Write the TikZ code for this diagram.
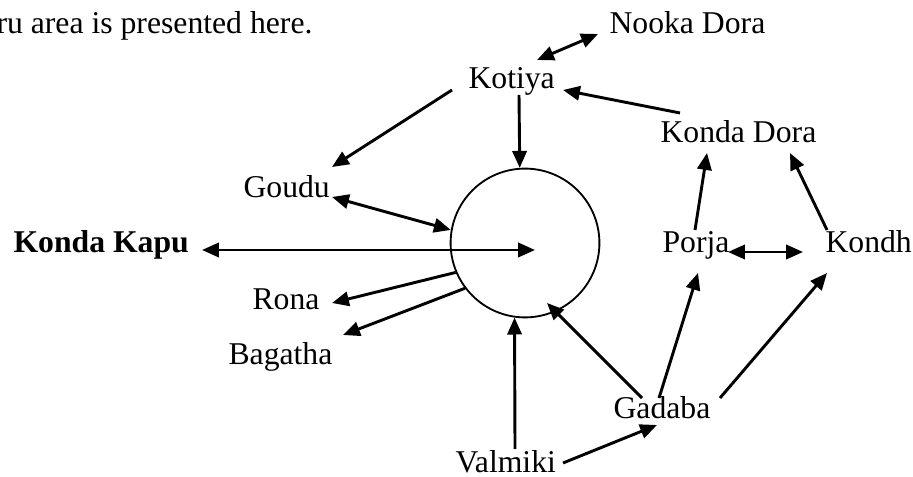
\documentclass[tikz,border=0pt]{standalone}
\usepackage{fontspec}
\setmainfont{Liberation Serif}
\usetikzlibrary{arrows.meta}

\begin{document}
\begin{tikzpicture}[x=0.0133cm, y=-0.0133cm,
    tribe/.style={anchor=base west, inner sep=0pt, font=\fontsize{12}{14}\selectfont},
    link/.style={-{Triangle[length=6.4pt,width=5.4pt]}, line width=1.1pt},
    twoway/.style={{Triangle[length=6.4pt,width=5.4pt]}-{Triangle[length=6.4pt,width=5.4pt]}, line width=1.1pt}]
    \useasboundingbox (0,0) rectangle (913,477);

    \node [tribe] (intro) at (-4,34) {ru area is presented here.};

    % the tribes round the hub
    \node [tribe] (nooka)   at (609,34)  {Nooka Dora};
    \node [tribe] (kotiya)  at (468,89)  {Kotiya};
    \node [tribe] (kdora)   at (660,143) {Konda Dora};
    \node [tribe] (goudu)   at (243,198) {Goudu};
    \node [tribe, font=\fontsize{12}{14}\selectfont\bfseries] (kapu) at (13,253) {Konda Kapu};
    \node [tribe] (porja)   at (662,253) {Porja};
    \node [tribe] (kondh)   at (825,253) {Kondh};
    \node [tribe] (rona)    at (252,310) {Rona};
    \node [tribe] (bagatha) at (228,365) {Bagatha};
    \node [tribe] (gadaba)  at (613,419) {Gadaba};
    \node [tribe] (valmiki) at (455,473) {Valmiki};

    \node [circle, draw, line width=0.7pt, minimum size=1.98cm, inner sep=0pt] (hub) at (525,243) {};

    \draw [twoway] ([shift={(69,-29)}]kotiya.base west) -- ([shift={(-11,0)}]nooka.base west);
    \draw [link] ([shift={(-16,1)}]kotiya.base west) -- ([shift={(89,-31)}]goudu.base west);
    \draw [link] ([shift={(51,6)}]kotiya.base west) -- (hub.94);
    \draw [link] ([shift={(20,-30)}]kdora.base west) -- ([shift={(95,1)}]kotiya.base west);
    \draw [twoway] ([shift={(89,-1)}]goudu.base west) -- (hub.170);
    \draw [twoway] ([shift={(189,-3)}]kapu.base west) -- ([shift={(10,7)}]hub.center);
    \draw [link] (hub.203) -- ([shift={(80,-7)}]rona.base west);
    \draw [link] (hub.217) -- ([shift={(115,-30)}]bagatha.base west);
    \draw [link] ([shift={(60,-24)}]valmiki.base west) -- (hub.262);
    \draw [link] ([shift={(108,-10)}]valmiki.base west) -- ([shift={(44,6)}]gadaba.base west);
    \draw [link] ([shift={(29,-21)}]gadaba.base west) -- ([shift={(22,60)}]hub.center);
    \draw [link] ([shift={(46,-21)}]gadaba.base west) -- ([shift={(36,20)}]porja.base west);
    \draw [link] ([shift={(107,-21)}]gadaba.base west) -- ([shift={(2,20)}]kondh.base west);
    \draw [twoway] ([shift={(66,-1)}]porja.base west) -- ([shift={(-22,-1)}]kondh.base west);
    \draw [link] ([shift={(33,-23)}]porja.base west) -- ([shift={(47,10)}]kdora.base west);
    \draw [link] ([shift={(2,-23)}]kondh.base west) -- ([shift={(130,10)}]kdora.base west);
\end{tikzpicture}
\end{document}
